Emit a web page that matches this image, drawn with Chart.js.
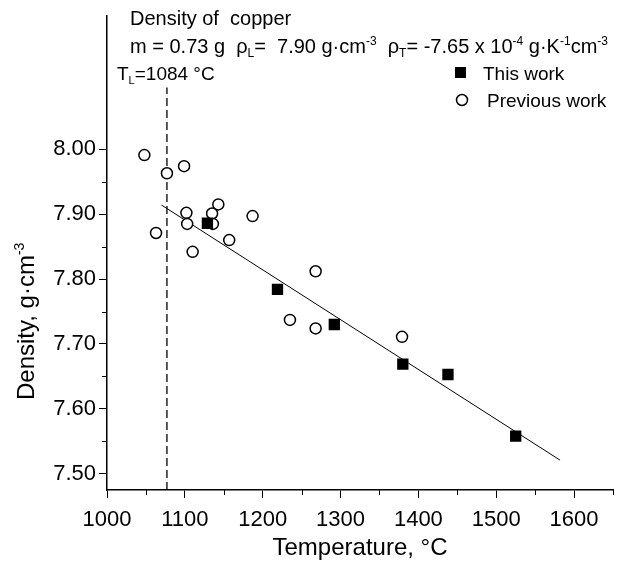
<!DOCTYPE html>
<html>
<head>
<meta charset="utf-8">
<script src="https://cdn.jsdelivr.net/npm/chart.js@4/dist/chart.umd.min.js"></script>
<style>
  html, body { margin: 0; padding: 0; background: #fff; }
  #wrap { width: 621px; height: 571px; }
</style>
</head>
<body>
<div id="wrap"><canvas id="densityChart"></canvas></div>
<script>
// this work (filled squares)
const tempThis = [1129, 1219, 1292, 1380, 1438, 1525];
const rhoThis = [7.886, 7.784, 7.730, 7.669, 7.653, 7.558];

// previous work (open circles)
const tempPrev = [1048, 1063, 1077, 1099, 1102, 1103, 1110, 1135, 1136, 1143, 1157, 1187, 1235, 1268, 1268, 1379];
const rhoPrev = [7.991, 7.871, 7.963, 7.974, 7.902, 7.885, 7.842, 7.901, 7.885, 7.915, 7.860, 7.897, 7.737, 7.812, 7.724, 7.711];

// linear fit and liquidus line
const fitTemp = [1070, 1582];
const fitRho = [7.914, 7.521];
const liquidusTemp = [1077, 1077];
const liquidusRho = [7.475, 8.095];

// ticks
const xMajor = [1000, 1100, 1200, 1300, 1400, 1500, 1600];
const xMinor = [1050, 1150, 1250, 1350, 1450, 1550, 1650];
const yMajor = [7.50, 7.60, 7.70, 7.80, 7.90, 8.00];
const yMinor = [7.55, 7.65, 7.75, 7.85, 7.95];

const FONT = '"Liberation Sans", Arial, sans-serif';

function pts(xs, ys) {
    return xs.map((x, i) => ({x: x, y: ys[i]}));
}

// text with sub/superscript pieces: [text, 'n'|'sub'|'sup']
function drawRich(ctx, x, y, parts, size) {
    let small = Math.round(size * 0.6);
    ctx.textBaseline = 'alphabetic';
    ctx.textAlign = 'left';
    parts.forEach(p => {
        let dy = 0;
        if (p[1] === 'n') {
            ctx.font = size + 'px ' + FONT;
        } else {
            ctx.font = small + 'px ' + FONT;
            dy = p[1] === 'sup' ? -size * 0.4 : size * 0.2;
        }
        ctx.fillText(p[0], x, y + dy);
        x += ctx.measureText(p[0]).width;
    });
    return x;
}

const extras = {
    id: 'extras',
    afterDraw(chart) {
        const ctx = chart.ctx;
        const xs = chart.scales.x, ys = chart.scales.y;
        ctx.save();
        ctx.strokeStyle = '#000';
        ctx.fillStyle = '#000';
        ctx.lineWidth = 1;

        // minor ticks
        ctx.beginPath();
        xMinor.forEach(v => {
            let px = Math.round(xs.getPixelForValue(v)) + 0.5;
            ctx.moveTo(px, xs.top);
            ctx.lineTo(px, xs.top + 5);
        });
        yMinor.forEach(v => {
            let py = Math.round(ys.getPixelForValue(v)) + 0.5;
            ctx.moveTo(ys.right, py);
            ctx.lineTo(ys.right - 5, py);
        });
        ctx.stroke();

        // header text
        drawRich(ctx, 130, 25, [['Density of  copper', 'n']], 20);
        drawRich(ctx, 130, 53, [
            ['m = 0.73 g  \u03c1', 'n'], ['L', 'sub'], ['=  7.90 g\u00b7cm', 'n'], ['-3', 'sup'],
            ['  \u03c1', 'n'], ['T', 'sub'], ['= -7.65 x 10', 'n'], ['-4', 'sup'],
            [' g\u00b7K', 'n'], ['-1', 'sup'], ['cm', 'n'], ['-3', 'sup']
        ], 20);
        drawRich(ctx, 117, 80, [['T', 'n'], ['L', 'sub'], ['=1084 \u00b0C', 'n']], 19);

        // legend
        ctx.fillRect(455, 67, 11, 11);
        drawRich(ctx, 483, 80, [['This work', 'n']], 19);
        ctx.beginPath();
        ctx.lineWidth = 1.5;
        ctx.arc(462, 100, 5.5, 0, Math.PI * 2);
        ctx.stroke();
        drawRich(ctx, 487, 107, [['Previous work', 'n']], 19);

        // y axis title
        ctx.translate(34, 400);
        ctx.rotate(-Math.PI / 2);
        drawRich(ctx, 0, 0, [['Density, g\u00b7cm', 'n'], ['-3', 'sup']], 24);
        ctx.restore();
    }
};

new Chart(document.getElementById('densityChart'), {
    type: 'scatter',
    data: {
        datasets: [{
            label: 'This work',
            data: pts(tempThis, rhoThis),
            pointStyle: 'rect',
            pointRadius: 8,
            pointHoverRadius: 8,
            backgroundColor: '#000',
            borderColor: '#000',
            borderWidth: 0,
            order: 0
        }, {
            label: 'Previous work',
            data: pts(tempPrev, rhoPrev),
            pointStyle: 'circle',
            pointRadius: 5.5,
            pointHoverRadius: 5.5,
            backgroundColor: '#fff',
            borderColor: '#000',
            borderWidth: 1.5,
            order: 1
        }, {
            label: 'fit',
            data: pts(fitTemp, fitRho),
            showLine: true,
            pointRadius: 0,
            borderColor: '#000',
            borderWidth: 1,
            order: 2
        }, {
            label: 'liquidus',
            data: pts(liquidusTemp, liquidusRho),
            showLine: true,
            pointRadius: 0,
            borderColor: '#000',
            borderWidth: 1.3,
            borderDash: [8, 4],
            order: 3
        }]
    },
    options: {
        responsive: true,
        maintainAspectRatio: false,
        animation: false,
        layout: {padding: {top: 10, right: 0, left: 0, bottom: 0}},
        plugins: {
            legend: {display: false},
            tooltip: {enabled: false}
        },
        scales: {
            x: {
                type: 'linear',
                min: 1000,
                max: 1650,
                afterBuildTicks: s => { s.ticks = xMajor.map(v => ({value: v})); },
                afterFit: s => { s.height = 81; },
                ticks: {
                    color: '#000',
                    padding: 9,
                    maxRotation: 0,
                    font: {family: FONT, size: 22},
                    callback: v => String(v)
                },
                grid: {drawOnChartArea: false, tickLength: 8, tickColor: '#000', tickWidth: 1},
                border: {color: '#000', width: 1.5},
                title: {
                    display: true,
                    text: 'Temperature, \u00b0C',
                    color: '#000',
                    font: {family: FONT, size: 24},
                    padding: {top: 4, bottom: 8}
                }
            },
            y: {
                type: 'linear',
                min: 7.475,
                max: 8.205,
                afterBuildTicks: s => { s.ticks = yMajor.map(v => ({value: v})); },
                afterFit: s => { s.width = 107; },
                ticks: {
                    color: '#000',
                    padding: 3,
                    font: {family: FONT, size: 22},
                    callback: v => v.toFixed(2)
                },
                grid: {drawOnChartArea: false, tickLength: 8, tickColor: '#000', tickWidth: 1},
                border: {color: '#000', width: 1.5}
            }
        }
    },
    plugins: [extras]
});
</script>
</body>
</html>
